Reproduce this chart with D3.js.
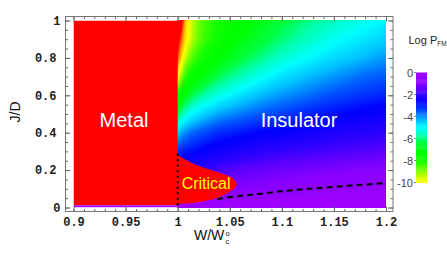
<!DOCTYPE html>
<html>
<head>
<meta charset="utf-8">
<script src="https://cdn.jsdelivr.net/npm/d3@7"></script>
<style>
  html, body { margin: 0; padding: 0; background: #fff; }
  svg { display: block; }
  .tick text { font-family: "Liberation Mono", monospace; font-weight: bold; font-size: 12px; fill: #222; }
  .tick line { stroke: #666; }
</style>
</head>
<body>
<svg id="chart" width="447" height="253"></svg>
<script>
// ---- values ----
const xTicks = [0.9, 0.95, 1, 1.05, 1.1, 1.15, 1.2];
const yTicks = [0, 0.2, 0.4, 0.6, 0.8, 1];
const barTicks = [0, -2, -4, -6, -8, -10];

// log P_FM on the insulator side (W/Wc >= 1), rows top -> bottom
const gridW = [1.0, 1.004, 1.008, 1.015, 1.025, 1.04, 1.06, 1.08, 1.1, 1.125, 1.15, 1.175, 1.2];
const gridJ = [1.0, 0.9, 0.8, 0.7, 0.6, 0.5, 0.4, 0.3, 0.2, 0.1, 0.05, 0.0];
const logP = [
  [-13.5, -12.3, -10.5, -9.3, -8.5, -7.9, -7.3, -6.8, -6.4, -5.9, -5.5, -5.2, -4.9],
  [-12.5, -11.3, -10.2, -9.2, -8.4, -7.7, -7.0, -6.5, -6.0, -5.5, -5.1, -4.8, -4.5],
  [-11.5, -10.3, -9.3, -8.5, -7.8, -7.1, -6.4, -5.9, -5.4, -5.0, -4.6, -4.3, -4.0],
  [-10.0, -9.0, -8.2, -7.5, -6.9, -6.2, -5.6, -5.1, -4.7, -4.3, -4.0, -3.7, -3.5],
  [-8.2, -7.4, -6.8, -6.2, -5.7, -5.2, -4.7, -4.3, -4.0, -3.7, -3.4, -3.2, -3.0],
  [-6.2, -5.7, -5.3, -4.9, -4.5, -4.1, -3.8, -3.5, -3.3, -3.0, -2.8, -2.6, -2.5],
  [-4.5, -4.1, -3.9, -3.6, -3.4, -3.1, -2.9, -2.7, -2.6, -2.4, -2.2, -2.1, -2.0],
  [-3.1, -3.0, -2.9, -2.8, -2.6, -2.4, -2.2, -2.0, -1.9, -1.8, -1.7, -1.6, -1.5],
  [-2.3, -2.2, -2.1, -2.0, -1.9, -1.7, -1.5, -1.4, -1.3, -1.2, -1.1, -1.0, -1.0],
  [-1.6, -1.5, -1.5, -1.4, -1.3, -1.2, -1.0, -0.9, -0.8, -0.7, -0.6, -0.5, -0.5],
  [-0.7, -0.6, -0.6, -0.6, -0.5, -0.5, -0.4, -0.4, -0.3, -0.3, -0.3, -0.2, -0.2],
  [0, 0, 0, 0, 0, 0, 0, 0, 0, 0, 0, 0, 0]
];

// metal phase (P_FM = 0) and the thin J = 0 strip
const metalW = [0.9, 1.0];
const metalJ = [0.012, 1.0];
const stripJ = [0, 0.012];

// critical region outline (W, J)
const criticalW = [0.997, 0.999, 1.005, 1.018, 1.037, 1.049, 1.054, 1.0565, 1.055, 1.051, 1.045, 1.037, 1.027, 1.018, 1.008, 1.0, 0.997];
const criticalJ = [0.292, 0.283, 0.265, 0.227, 0.191, 0.168, 0.150, 0.126, 0.105, 0.088, 0.070, 0.050, 0.036, 0.027, 0.021, 0.019, 0.019];

// dashed boundary
const dashW = [1.038, 1.06, 1.08, 1.1, 1.12, 1.14, 1.16, 1.18, 1.2];
const dashJ = [0.046, 0.062, 0.074, 0.087, 0.097, 0.106, 0.115, 0.123, 0.131];

// dotted line at W = Wc
const dotW = [1.0, 1.0];
const dotJ = [0.012, 0.29];

// colour stops of the hue scale (log P -> hue)
const hueV = [-14, -12, -11, -10, -9.5, -8.8, -8, -7, -6.3, -5.7, -5, -4.3, -3.5, -2.7, -2, -1.5, -1, 0];
const hueH = [0, 0, 35, 60, 70, 95, 115, 122, 135, 160, 180, 195, 220, 240, 250, 262, 272, 278];

const hue = d3.scaleLinear().domain(hueV).range(hueH).clamp(true);
const color = v => d3.hsl(hue(v), 1, 0.5).formatHex();

const svg = d3.select('#chart');
const frame = { left: 65.5, right: 393, top: 16.5, bottom: 211.5 };

const x = d3.scaleLinear().domain([0.9, 1.2]).range([73.5, 386]);
const y = d3.scaleLinear().domain([0, 1]).range([207.5, 20.5]);

svg.append('clipPath').attr('id', 'plotclip')
  .append('rect')
  .attr('x', x(0.9)).attr('y', y(1))
  .attr('width', x(1.2) - x(0.9)).attr('height', y(0) - y(1));

const plot = svg.append('g').attr('clip-path', 'url(#plotclip)');

// insulator field via d3.contours on the read grid
const nC = gridW.length, nR = gridJ.length;
const colIdx = d3.scaleLinear().domain(d3.range(nC)).range(gridW).clamp(true);
const rowIdx = d3.scaleLinear().domain(d3.range(nR)).range(gridJ).clamp(true);
const proj = d3.geoTransform({
  point(px, py) { this.stream.point(x(colIdx(px - 0.5)), y(rowIdx(py - 0.5))); }
});
const gpath = d3.geoPath(proj);
const step = 0.1;
const contours = d3.contours()
  .size([nC, nR])
  .thresholds(d3.range(-14, 0.001, step))(logP.flat());

plot.append('g')
  .selectAll('path')
  .data(contours)
  .join('path')
  .attr('d', gpath)
  .attr('fill', d => color(d.value + step / 2))
  .attr('stroke', d => color(d.value + step / 2))
  .attr('stroke-width', 0.3);

// metal
plot.append('rect')
  .attr('x', x(metalW[0])).attr('y', y(metalJ[1]))
  .attr('width', x(metalW[1]) - x(metalW[0]))
  .attr('height', y(metalJ[0]) - y(metalJ[1]))
  .attr('fill', color(-14));

plot.append('rect')
  .attr('x', x(metalW[0])).attr('y', y(stripJ[1]))
  .attr('width', x(metalW[1]) - x(metalW[0]) + 1)
  .attr('height', y(stripJ[0]) - y(stripJ[1]))
  .attr('fill', color(0));

// critical
const critLine = d3.line().x(d => x(d[0])).y(d => y(d[1])).curve(d3.curveCatmullRom);
plot.append('path')
  .attr('d', critLine(d3.zip(criticalW, criticalJ)) + 'Z')
  .attr('fill', color(-14));

// dashed and dotted boundaries
const ln = d3.line().x(d => x(d[0])).y(d => y(d[1])).curve(d3.curveCatmullRom);
svg.append('path')
  .attr('d', ln(d3.zip(dashW, dashJ)))
  .attr('fill', 'none').attr('stroke', '#000')
  .attr('stroke-width', 2).attr('stroke-dasharray', '6,4');

svg.append('path')
  .attr('d', ln(d3.zip(dotW, dotJ)))
  .attr('fill', 'none').attr('stroke', '#000')
  .attr('stroke-width', 2).attr('stroke-dasharray', '2,3.5');

// phase labels
const labels = [
  { t: 'Metal', w: 0.9485, j: 0.428, size: 20, fill: '#fff' },
  { t: 'Insulator', w: 1.1165, j: 0.428, size: 20, fill: '#fff' },
  { t: 'Critical', w: 1.0273, j: 0.097, size: 16, fill: '#ffff00' }
];
svg.append('g').selectAll('text').data(labels).join('text')
  .attr('x', d => x(d.w)).attr('y', d => y(d.j))
  .attr('text-anchor', 'middle')
  .attr('font-family', '"Liberation Sans", Arial, sans-serif')
  .attr('font-size', d => d.size)
  .attr('fill', d => d.fill)
  .text(d => d.t);

// frame with inward ticks
svg.append('rect')
  .attr('x', frame.left).attr('y', frame.top)
  .attr('width', frame.right - frame.left).attr('height', frame.bottom - frame.top)
  .attr('fill', 'none').attr('stroke', '#777').attr('stroke-width', 1);

const xMinor = d3.range(90, 121, 1).map(d => d / 100);
const yMinor = d3.range(0, 21, 1).map(d => d / 20);

function frameAxis(axis, pos, ticks, size, labelled) {
  const g = svg.append('g').attr('transform', pos)
    .call(axis.tickValues(ticks).tickSizeInner(-size).tickSizeOuter(0).tickPadding(6)
      .tickFormat(labelled ? (d => String(+d.toFixed(2))) : ''));
  g.select('.domain').remove();
  return g;
}

frameAxis(d3.axisBottom(x), `translate(0,${frame.bottom})`, xMinor, 2.5, false);
frameAxis(d3.axisTop(x), `translate(0,${frame.top})`, xMinor, 2.5, false);
frameAxis(d3.axisBottom(x), `translate(0,${frame.bottom})`, xTicks, 5, true);
frameAxis(d3.axisTop(x), `translate(0,${frame.top})`, xTicks, 5, false);

frameAxis(d3.axisLeft(y), `translate(${frame.left},0)`, yMinor, 2.5, false);
frameAxis(d3.axisRight(y), `translate(${frame.right},0)`, yMinor, 2.5, false);
const yl = frameAxis(d3.axisLeft(y), `translate(${frame.left},0)`, yTicks, 5, true);
frameAxis(d3.axisRight(y), `translate(${frame.right},0)`, yTicks, 5, false);
yl.selectAll('text').attr('x', d => Number.isInteger(d) ? -5 : -9);

// axis titles
svg.append('text')
  .attr('transform', 'translate(20,112) rotate(-90)')
  .attr('text-anchor', 'middle')
  .attr('font-family', '"Liberation Sans", Arial, sans-serif')
  .attr('font-size', 14).attr('fill', '#111')
  .text('J/D');

const xt = svg.append('g').attr('font-family', '"Liberation Sans", Arial, sans-serif').attr('fill', '#111');
xt.append('text').attr('x', 194).attr('y', 240).attr('font-size', 14).text('W/W');
xt.append('text').attr('x', 225.5).attr('y', 243.5).attr('font-size', 7.5).text('c');
xt.append('text').attr('x', 225.5).attr('y', 235.5).attr('font-size', 7.5).text('o');

// colour bar
const cb = d3.scaleLinear().domain([0, -10]).range([72.5, 182.5]);
const cbVals = d3.range(-10, 0, 0.1);
const bar = svg.append('g');
bar.selectAll('rect').data(cbVals).join('rect')
  .attr('x', 416).attr('width', 11)
  .attr('y', d => cb(d + 0.1)).attr('height', d => cb(d) - cb(d + 0.1) + 0.4)
  .attr('fill', d => color(d + 0.05));

bar.selectAll('text').data(barTicks).join('text')
  .attr('x', 413).attr('y', d => cb(d) + 4)
  .attr('text-anchor', 'end')
  .attr('font-family', '"Liberation Sans", Arial, sans-serif')
  .attr('font-size', 11).attr('fill', '#444')
  .text(d => d === 0 ? '0' : '-' + Math.abs(d));

bar.selectAll('line').data(barTicks).join('line')
  .attr('x1', 414).attr('x2', 416)
  .attr('y1', d => cb(d)).attr('y2', d => cb(d))
  .attr('stroke', '#888');

const ttl = svg.append('text')
  .attr('x', 408.5).attr('y', 43.5)
  .attr('font-family', '"Liberation Sans", Arial, sans-serif')
  .attr('font-size', 11).attr('fill', '#222');
ttl.append('tspan').text('Log P');
ttl.append('tspan').attr('font-size', 6.5).attr('dy', 2).text('FM');
</script>
</body>
</html>
